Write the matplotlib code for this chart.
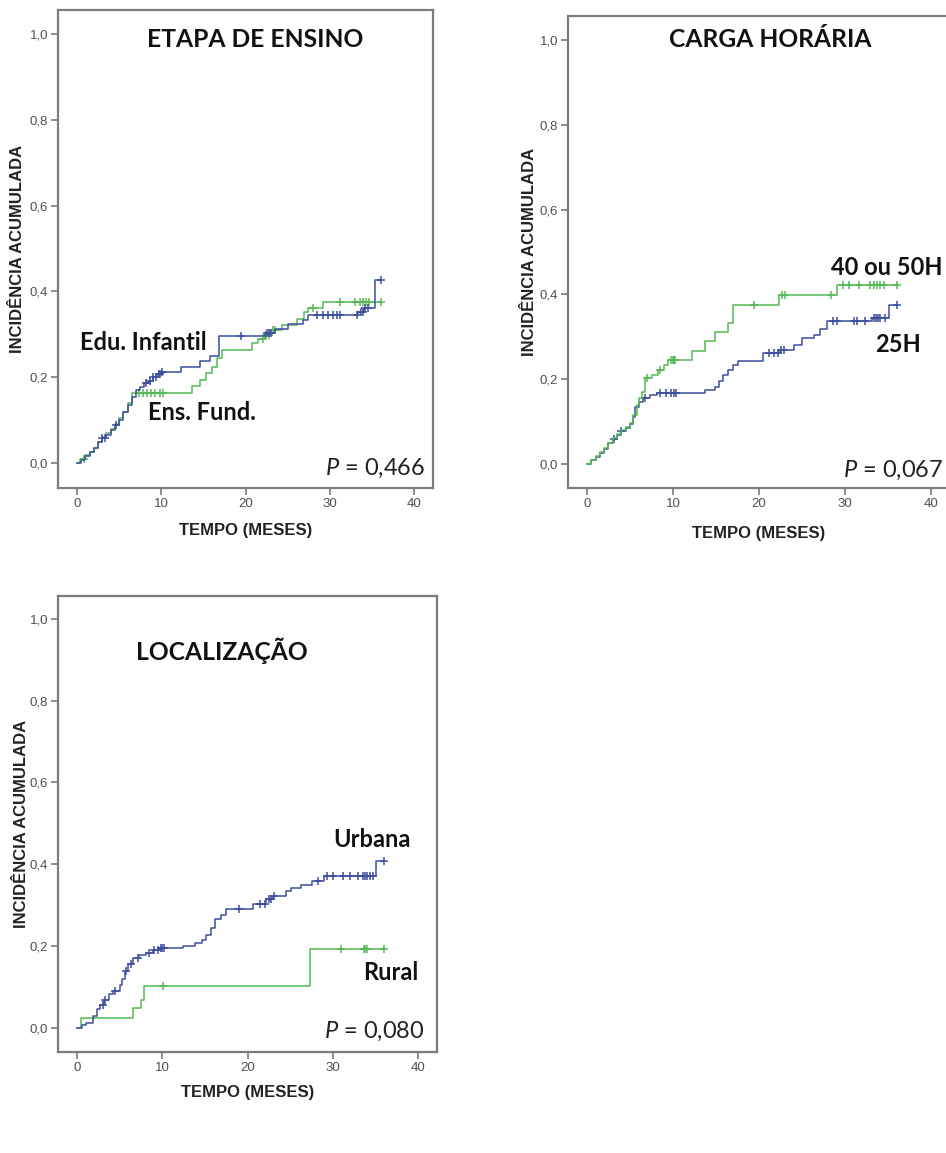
import numpy as np
import matplotlib.pyplot as plt

plt.rcParams['mathtext.fontset'] = 'custom'
plt.rcParams['mathtext.it'] = 'Lato:italic'
plt.rcParams['mathtext.rm'] = 'Lato'

NARROW = ['Liberation Sans Narrow', 'Liberation Sans', 'DejaVu Sans']
LABEL_FONT = ['Lato', 'DejaVu Sans']
BLUE = '#3d4e9f'
GREEN = '#55b955'
FRAME = '#7c7c7c'

y_ticks = [0.0, 0.2, 0.4, 0.6, 0.8, 1.0]
y_tick_labels = ['0,0', '0,2', '0,4', '0,6', '0,8', '1,0']
x_ticks = [0, 10, 20, 30, 40]

# --- etapa de ensino ---
edu_t = [0, 0.5, 1.0, 1.5, 2.0, 2.5, 3.0, 3.5, 4.0, 4.5, 5.0, 5.5, 6.0, 6.5, 7.0,
         7.5, 8.0, 8.5, 9.0, 9.5, 10.0, 12.3, 14.6, 15.8, 16.8, 22.3, 23.5, 25.0,
         26.8, 27.4, 33.3, 34.0, 35.3]
edu_y = [0, 0.008, 0.016, 0.025, 0.035, 0.048, 0.058, 0.066, 0.076, 0.088, 0.100,
         0.118, 0.135, 0.155, 0.170, 0.178, 0.186, 0.192, 0.200, 0.207, 0.213, 0.225,
         0.237, 0.250, 0.295, 0.303, 0.312, 0.323, 0.333, 0.344, 0.353, 0.361, 0.427]
edu_cens = [3.0, 3.3, 4.6, 8.2, 8.6, 9.0, 9.4, 9.7, 9.9, 10.1, 19.5, 22.5, 22.8, 23.0,
            28.5, 29.2, 29.8, 30.3, 30.8, 31.2, 33.2, 33.7, 33.9, 34.1, 34.5, 36.0]

fund_t = [0, 0.3, 1.0, 1.5, 2.0, 2.5, 3.0, 3.5, 4.0, 4.5, 5.0, 5.5, 6.0, 6.5, 13.6,
          14.6, 15.3, 16.0, 16.6, 17.2, 20.8, 21.5, 22.3, 22.9, 24.3, 26.1, 26.9,
          27.4, 29.2]
fund_y = [0, 0.010, 0.018, 0.026, 0.036, 0.048, 0.060, 0.070, 0.080, 0.092, 0.105,
          0.120, 0.140, 0.163, 0.179, 0.194, 0.210, 0.225, 0.245, 0.264, 0.280, 0.289,
          0.299, 0.311, 0.322, 0.335, 0.352, 0.361, 0.375]
fund_cens = [0.8, 7.3, 7.8, 8.3, 8.8, 9.3, 9.8, 10.2, 22.0, 22.4, 22.8, 23.2, 23.5,
             28.0, 31.2, 33.0, 33.5, 33.9, 34.3, 34.6, 36.0]

# --- carga horaria ---
h40_t = [0, 0.5, 1.0, 1.5, 2.0, 2.5, 3.0, 3.5, 4.0, 4.5, 5.0, 5.4, 5.8, 6.1, 6.4,
         6.7, 7.6, 8.3, 8.9, 9.4, 12.2, 13.7, 14.9, 16.4, 17.0, 22.3, 29.1]
h40_y = [0, 0.008, 0.018, 0.027, 0.038, 0.050, 0.061, 0.070, 0.080, 0.088, 0.097,
         0.115, 0.139, 0.155, 0.170, 0.203, 0.210, 0.222, 0.233, 0.245, 0.266, 0.289,
         0.311, 0.333, 0.375, 0.399, 0.423]
h40_cens = [7.0, 8.5, 9.8, 10.0, 10.1, 10.2, 19.4, 22.7, 23.0, 28.4, 29.7, 30.4,
            31.6, 32.9, 33.3, 33.7, 34.1, 34.5, 36.0]

h25_t = [0, 0.5, 1.0, 1.5, 2.0, 2.5, 3.0, 3.5, 4.0, 4.5, 5.0, 5.3, 5.6, 6.0, 6.5,
         7.3, 8.1, 13.7, 14.9, 15.3, 15.8, 16.4, 17.0, 17.6, 20.5, 22.3, 24.0, 25.0,
         26.4, 27.1, 27.9, 33.1, 35.1]
h25_y = [0, 0.008, 0.016, 0.025, 0.036, 0.048, 0.058, 0.067, 0.077, 0.085, 0.094,
         0.110, 0.134, 0.145, 0.156, 0.163, 0.167, 0.175, 0.182, 0.195, 0.210, 0.222,
         0.233, 0.243, 0.262, 0.269, 0.281, 0.297, 0.305, 0.317, 0.336, 0.344, 0.375]
h25_cens = [3.2, 4.0, 6.7, 8.5, 9.2, 9.8, 10.1, 10.3, 21.2, 21.7, 22.2, 22.6, 22.9,
            28.6, 29.0, 31.0, 31.4, 32.3, 33.3, 33.6, 33.8, 34.1, 34.6, 36.0]

# --- localizacao ---
urb_t = [0, 0.6, 1.1, 1.9, 2.4, 2.7, 3.2, 3.8, 4.2, 5.0, 5.3, 5.6, 6.0, 6.6, 7.3,
         8.1, 8.9, 9.6, 12.4, 13.8, 14.6, 15.1, 15.7, 16.2, 16.9, 17.5, 20.6, 22.2,
         23.0, 24.5, 25.1, 26.3, 27.5, 29.0, 35.1]
urb_y = [0, 0.006, 0.012, 0.029, 0.045, 0.057, 0.069, 0.082, 0.090, 0.106, 0.120,
         0.139, 0.155, 0.171, 0.179, 0.183, 0.190, 0.196, 0.201, 0.208, 0.216, 0.228,
         0.245, 0.265, 0.275, 0.290, 0.302, 0.314, 0.322, 0.334, 0.342, 0.350, 0.359,
         0.371, 0.407]
urb_cens = [3.0, 3.3, 4.5, 5.8, 6.3, 7.2, 8.4, 9.0, 9.5, 9.8, 10.0, 10.2, 19.0, 21.5,
            22.0, 22.5, 22.8, 23.1, 28.3, 29.3, 30.0, 31.2, 32.0, 33.0, 33.5, 33.8,
            34.0, 34.3, 34.7, 36.0]

rur_t = [0, 0.5, 6.6, 7.5, 7.9, 27.3]
rur_y = [0, 0.024, 0.049, 0.069, 0.102, 0.192]
rur_cens = [10.1, 31.0, 33.6, 33.8, 34.0, 36.0]


def draw_curve(ax, times, values, cens, color):
    t = np.array(times)
    v = np.array(values)
    c = np.array(cens)
    end = c.max()
    ax.plot(np.append(t, end), np.append(v, v[-1]), drawstyle='steps-post',
            color=color, lw=1.1)
    cy = v[np.searchsorted(t, c, side='right') - 1]
    ax.plot(c, cy, ls='none', marker='+', ms=6, mew=1.1, color=color)


def style_axes(ax, xlim, ylim, ylab_x, xlab_x, xlab_y):
    ax.set_xlim(*xlim)
    ax.set_ylim(*ylim)
    ax.set_xticks(x_ticks)
    ax.set_xticklabels([str(v) for v in x_ticks])
    ax.set_yticks(y_ticks)
    ax.set_yticklabels(y_tick_labels)
    for s in ax.spines.values():
        s.set_color(FRAME)
        s.set_linewidth(1.6)
    ax.tick_params(color=FRAME, labelcolor='#505050', length=5, width=1.2,
                   labelsize=9.5, pad=2)
    for lab in ax.get_xticklabels() + ax.get_yticklabels():
        lab.set_family(NARROW)
    ax.set_ylabel('INCIDÊNCIA ACUMULADA', fontsize=12, fontweight='bold',
                  family=NARROW, color='#222222', va='center')
    ax.yaxis.set_label_coords(ylab_x, 0.5)
    ax.set_xlabel('TEMPO (MESES)', fontsize=12, fontweight='bold',
                  family=NARROW, color='#222222', va='center')
    ax.xaxis.set_label_coords(xlab_x, xlab_y)


def label(ax, x, y, s, size=17, ha='left'):
    ax.text(x, y, s, fontsize=size, fontweight='bold', family=LABEL_FONT,
            ha=ha, va='baseline', color='#111111')


def pval(ax, x, y, s):
    ax.text(x, y, r'$P$ = ' + s, fontsize=17, family=LABEL_FONT,
            ha='right', va='baseline', color='#222222')


fig = plt.figure(figsize=(9.46, 11.53), dpi=100)

# ETAPA DE ENSINO
ax1 = fig.add_axes([0.0613, 0.5768, 0.3964, 0.4146])
draw_curve(ax1, fund_t, fund_y, fund_cens, GREEN)
draw_curve(ax1, edu_t, edu_y, edu_cens, BLUE)
style_axes(ax1, (-2.25, 42.2), (-0.058, 1.056), -0.107, 0.5, -0.088)
label(ax1, 21.1, 0.97, 'ETAPA DE ENSINO', size=17.7, ha='center')
label(ax1, 0.4, 0.263, 'Edu. Infantil')
label(ax1, 8.4, 0.10, 'Ens. Fund.')
pval(ax1, 41.3, -0.028, '0,466')

# CARGA HORARIA
ax2 = fig.add_axes([0.6004, 0.5768, 0.4040, 0.4094])
draw_curve(ax2, h25_t, h25_y, h25_cens, BLUE)
draw_curve(ax2, h40_t, h40_y, h40_cens, GREEN)
style_axes(ax2, (-2.2, 42.2), (-0.057, 1.057), -0.101, 0.5, -0.096)
label(ax2, 21.3, 0.983, 'CARGA HORÁRIA', size=17.7, ha='center')
label(ax2, 28.4, 0.446, '40 ou 50H')
label(ax2, 33.5, 0.264, '25H')
pval(ax2, 41.4, -0.031, '0,067')

# LOCALIZACAO
ax3 = fig.add_axes([0.0613, 0.0876, 0.4006, 0.3955])
draw_curve(ax3, rur_t, rur_y, rur_cens, GREEN)
draw_curve(ax3, urb_t, urb_y, urb_cens, BLUE)
style_axes(ax3, (-2.23, 42.2), (-0.059, 1.056), -0.095, 0.5, -0.088)
label(ax3, 17.0, 0.90, 'LOCALIZAÇÃO', size=17.7, ha='center')
label(ax3, 30.0, 0.443, 'Urbana')
label(ax3, 33.5, 0.117, 'Rural')
pval(ax3, 40.8, -0.024, '0,080')

fig.savefig('out.png', dpi=100, facecolor='white')
